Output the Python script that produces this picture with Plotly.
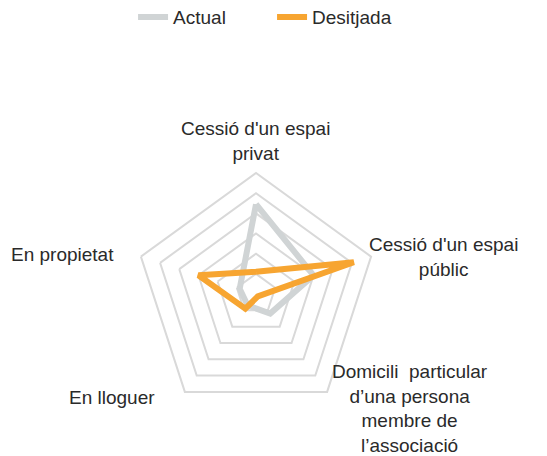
import plotly.graph_objects as go

categories = ["Cessió d'un espai privat", "Cessió d'un espai públic",
              "Domicili particular d'una persona membre de l'associació",
              "En lloguer", "En propietat"]
label_text = ["Cessió d'un espai<br>privat", "Cessió d'un espai<br>públic",
              "Domicili  particular<br>d’una persona<br>membre de<br>l’associació",
              "En lloguer", "En propietat"]
actual = [44.5, 30, 12, 7, 8.5]
desitjada = [11, 51, 1.5, 9, 30]
radial_ticks = [0, 10, 20, 30, 40, 50, 60]

font = "Liberation Sans, Arial, sans-serif"

fig = go.Figure()
fig.add_trace(go.Scatterpolar(r=actual + actual[:1], theta=categories + categories[:1],
                              mode="lines", name="Actual",
                              line=dict(color="#D0D4D5", width=6)))
fig.add_trace(go.Scatterpolar(r=desitjada + desitjada[:1], theta=categories + categories[:1],
                              mode="lines", name="Desitjada",
                              line=dict(color="#F7A531", width=6)))

# posicions de les etiquetes (fora del polígon)
pos = [(0.4601, 0.7042), (0.8089, 0.4453), (0.7458, 0.1071), (0.193, 0.1295), (0.102, 0.4487)]
for txt, (x, y) in zip(label_text, pos):
    fig.add_annotation(text=txt, x=x, y=y, xref="paper", yref="paper",
                       xanchor="center", yanchor="middle",
                       showarrow=False, align="center",
                       font=dict(size=19, color="#2a2a2a", family=font))

fig.update_layout(
    width=539, height=448,
    margin=dict(l=0, r=0, t=0, b=0, autoexpand=False),
    paper_bgcolor="white",
    font=dict(family=font, color="#2a2a2a"),
    showlegend=True,
    legend=dict(orientation="h", x=0.232, xanchor="left", y=1.022, yanchor="top",
                entrywidth=94, font=dict(size=19, color="#2a2a2a")),
    polar=dict(
        domain=dict(x=[0.2356, 0.6846], y=[0.0915, 0.6317]),
        gridshape="linear",
        bgcolor="white",
        radialaxis=dict(range=[radial_ticks[0], radial_ticks[-1]], tickvals=radial_ticks,
                        showticklabels=False, ticks="", showline=False,
                        gridcolor="#D9D9D9", gridwidth=2),
        angularaxis=dict(direction="clockwise", rotation=90, showgrid=False,
                         showticklabels=False, ticks="", showline=True,
                         linecolor="#D9D9D9", linewidth=2),
    ),
)

fig.write_html("out.html")
